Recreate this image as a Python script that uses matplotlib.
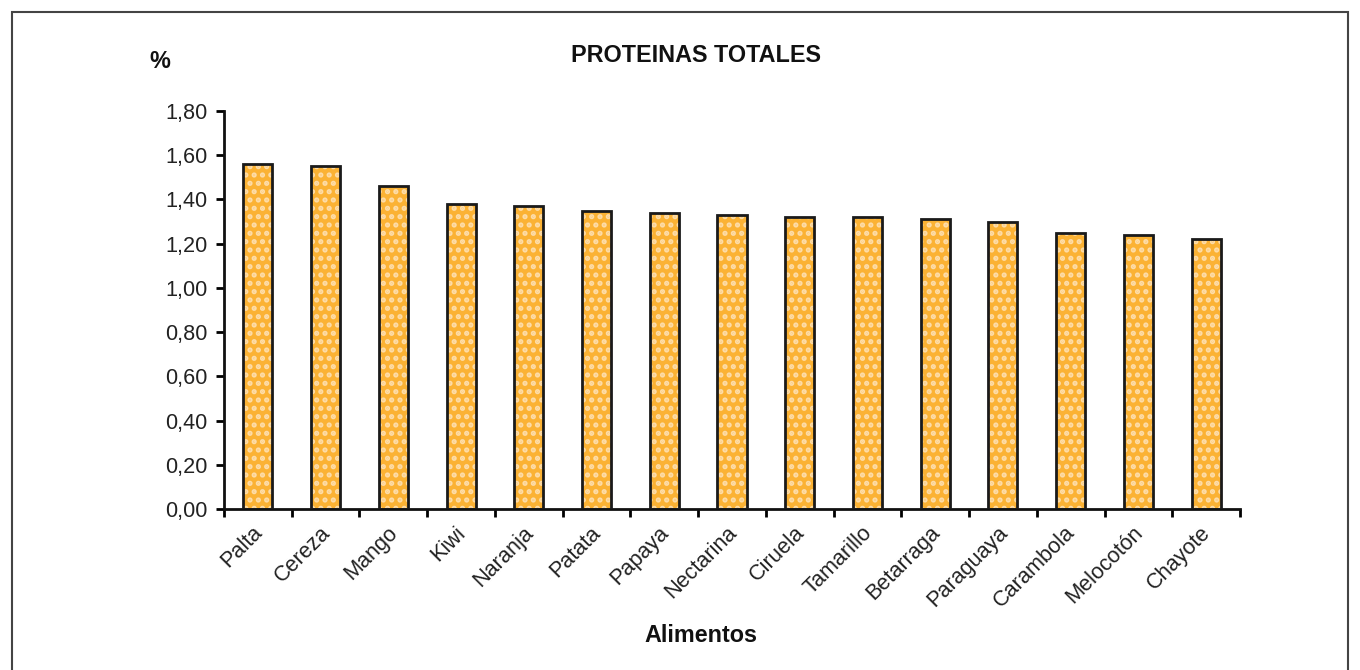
import matplotlib
matplotlib.use("Agg")
import matplotlib.pyplot as plt
from matplotlib.patches import Rectangle
from matplotlib.transforms import ScaledTranslation
import numpy as np

categories = ["Palta", "Cereza", "Mango", "Kiwi", "Naranja", "Patata", "Papaya",
              "Nectarina", "Ciruela", "Tamarillo", "Betarraga", "Paraguaya",
              "Carambola", "Melocotón", "Chayote"]
values = [1.56, 1.55, 1.46, 1.38, 1.37, 1.35, 1.34, 1.33, 1.32, 1.32, 1.31, 1.30,
          1.25, 1.24, 1.22]
yticks = [0.0, 0.2, 0.4, 0.6, 0.8, 1.0, 1.2, 1.4, 1.6, 1.8]
ytick_labels = ["0,00", "0,20", "0,40", "0,60", "0,80", "1,00", "1,20", "1,40", "1,60", "1,80"]

plt.rcParams['font.family'] = ['Liberation Sans', 'DejaVu Sans']
plt.rcParams['hatch.linewidth'] = 2.5

fig = plt.figure(figsize=(13.6, 6.7), dpi=100)
ax = fig.add_axes([224/1360, 1 - 509/670, (1240 - 224)/1360, (509 - 111)/670])

x = np.arange(len(categories))
ax.bar(x, values, width=0.43, color="#FBB234", edgecolor="#FDDCA8", hatch="..",
       linewidth=0, zorder=2)
ax.bar(x, values, width=0.43, facecolor="none", edgecolor="#1a1a1a",
       linewidth=2.0, zorder=3)

ax.set_xlim(-0.5, len(categories) - 0.5)
ax.set_ylim(0, 1.8)
ax.set_yticks(yticks)
ax.set_yticklabels(ytick_labels, fontsize=15.6, color="#222222")
ax.set_xticks(x)
ax.set_xticklabels(categories, rotation=45, ha="right", rotation_mode="anchor",
                   fontsize=15.6, color="#222222")
ax.tick_params(axis="x", which="major", length=0, pad=6)
ax.set_xticks(np.arange(len(categories) + 1) - 0.5, minor=True)
ax.tick_params(axis="x", which="minor", length=6, width=2, direction="out")
ax.tick_params(axis="y", length=6, width=2, direction="out", pad=6)

offset = ScaledTranslation(-6/100, -5/100, fig.dpi_scale_trans)
for lab in ax.get_xticklabels():
    lab.set_transform(lab.get_transform() + offset)

for s in ["top", "right"]:
    ax.spines[s].set_visible(False)
for s in ["left", "bottom"]:
    ax.spines[s].set_linewidth(2)
    ax.spines[s].set_color("#111111")

fig.text(696/1360, 1 - 56/670, "PROTEINAS TOTALES", ha="center", va="center",
         fontsize=16.8, fontweight="bold", color="#111111")
fig.text(160/1360, 1 - 62/670, "%", ha="center", va="center",
         fontsize=16.8, fontweight="bold", color="#111111")
fig.text(701/1360, 1 - 636/670, "Alimentos", ha="center", va="center",
         fontsize=16.8, fontweight="bold", color="#111111")

fig.patches.append(Rectangle((12/1360, -0.05), (1348 - 12)/1360, 1.05 - 12/670,
                             transform=fig.transFigure, fill=False,
                             edgecolor="#444444", linewidth=1.5))

fig.savefig("out.png", dpi=100)
